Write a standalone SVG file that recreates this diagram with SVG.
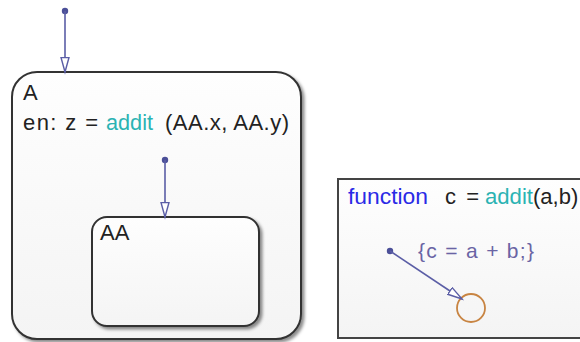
<svg xmlns="http://www.w3.org/2000/svg" width="580" height="342" viewBox="0 0 580 342">
<style>
text{font-family:"Liberation Sans",Arial,sans-serif;font-size:22px;fill:#222}
.kw{fill:#2a2ae6}
.fn{fill:#2bb3b3}
.lbl{fill:#6a64a4;font-size:21px}
.state{stroke:#333;stroke-width:2}
.conn{stroke:#5b5ea6;stroke-width:1.6;fill:none}
.dot{fill:#4b4f98}
</style>
<defs>
<linearGradient id="g" x1="0" y1="0" x2="0" y2="1">
<stop offset="0" stop-color="#fefefe"/>
<stop offset="1" stop-color="#f4f4f4"/>
</linearGradient>
<filter id="sh" x="-10%" y="-10%" width="125%" height="125%">
<feDropShadow dx="2.5" dy="2.5" stdDeviation="1.8" flood-color="#000" flood-opacity="0.45"/>
</filter>
<marker id="ah" markerUnits="userSpaceOnUse" markerWidth="18" markerHeight="12" refX="15" refY="5" orient="auto">
<path d="M0.5,1 L15,5 L0.5,9 Z" fill="#fff" stroke="#5b5ea6" stroke-width="1.4"/>
</marker>
</defs>

<g id="A">
<rect class="state" x="12" y="72" width="289" height="267" rx="25" fill="url(#g)" filter="url(#sh)"/>
<text x="23" y="100">A</text>
<text x="23" y="130" textLength="75" lengthAdjust="spacing">en: z =</text>
<text class="fn" x="106" y="130" textLength="47" lengthAdjust="spacingAndGlyphs">addit</text>
<text x="165" y="130" textLength="124" lengthAdjust="spacing">(AA.x, AA.y)</text>
</g>

<g id="AA">
<rect class="state" x="92" y="217" width="167" height="109" rx="15" fill="url(#g)" filter="url(#sh)"/>
<text x="100" y="240">AA</text>
</g>

<g id="addit">
<rect x="338" y="179" width="260" height="159" fill="url(#g)" stroke="#444" stroke-width="2"/>
<text class="kw" x="348" y="204" textLength="80" lengthAdjust="spacingAndGlyphs">function</text>
<text x="445" y="204" textLength="34" lengthAdjust="spacing">c =</text>
<text class="fn" x="485" y="204" textLength="48" lengthAdjust="spacingAndGlyphs">addit</text>
<text x="533" y="204">(a,b)</text>
</g>

<g id="junction">
<circle cx="471" cy="308" r="14" fill="none" stroke="#c88442" stroke-width="1.8"/>
</g>

<g id="connectors">
<circle class="dot" cx="65" cy="11" r="3.2"/>
<line class="conn" x1="65" y1="11" x2="65" y2="72" marker-end="url(#ah)"/>
<circle class="dot" cx="165" cy="160" r="3.2"/>
<line class="conn" x1="165" y1="160" x2="165" y2="217" marker-end="url(#ah)"/>
<circle class="dot" cx="390" cy="251" r="3.2"/>
<line class="conn" x1="390" y1="251" x2="462" y2="299" marker-end="url(#ah)"/>
<text class="lbl" x="418" y="258" textLength="116" lengthAdjust="spacing">{c = a + b;}</text>
</g>
</svg>
